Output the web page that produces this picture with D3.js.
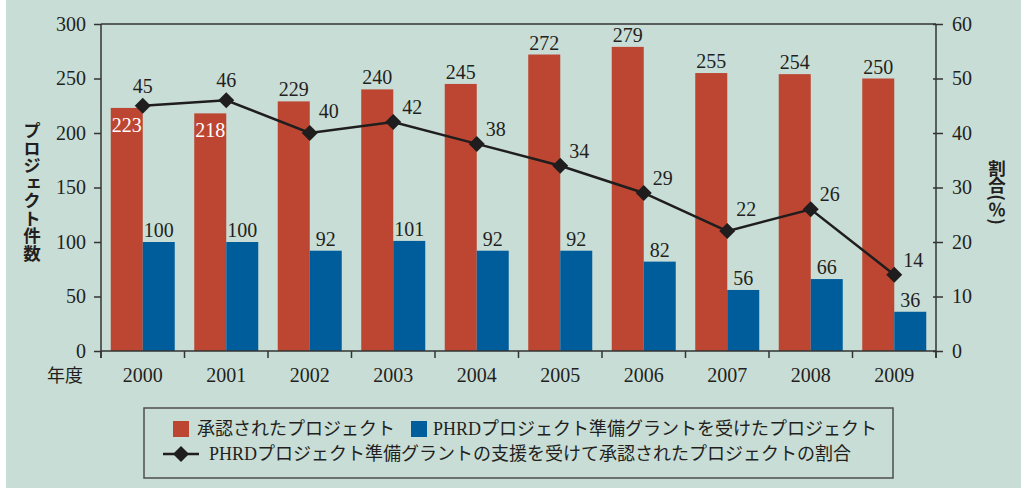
<!DOCTYPE html>
<html>
<head>
<meta charset="utf-8">
<script src="https://cdn.jsdelivr.net/npm/d3@7"></script>
<style>
  body { margin: 0; background: #fff; }
  text { fill: #231f20; }
</style>
</head>
<body>
<div id="container"></div>
<script>
const years = ["2000","2001","2002","2003","2004","2005","2006","2007","2008","2009"];
const approved = [223,218,229,240,245,272,279,255,254,250];
const grantProjects = [100,100,92,101,92,92,82,56,66,36];
const sharePct = [45,46,40,42,38,34,29,22,26,14];
const leftTicks = [0,50,100,150,200,250,300];
const rightTicks = [0,10,20,30,40,50,60];
const legendNames = ["承認されたプロジェクト","PHRDプロジェクト準備グラントを受けたプロジェクト","PHRDプロジェクト準備グラントの支援を受けて承認されたプロジェクトの割合"];

function create(){
  const width = 1021;
  const height = 488;
  const left = 101, right = 936, top = 24, bottom = 351;
  const red = "#bc4631";
  const blue = "#005d9c";
  const ink = "#231f20";
  const num = "'Liberation Serif', 'Noto Sans CJK JP', serif";
  const jp = "'Liberation Serif', 'Noto Sans CJK JP', sans-serif";
  const numSize = "20px";

  const svg = d3.select("#container")
    .append("svg")
    .attr("width", width)
    .attr("height", height)

  svg.append("rect").attr("x", 6).attr("y", 0)
    .attr("width", width - 6).attr("height", height)
    .attr("fill", "#c8ddd6")

  const x = d3.scaleBand().domain(years).range([left, right])
  const yL = d3.scaleLinear().domain([0, 300]).range([bottom, top])
  const yR = d3.scaleLinear().domain([0, 60]).range([bottom, top])
  const barW = 32
  const cx = d => x(d) + x.bandwidth() / 2

  // bars
  svg.selectAll(".red").data(years).enter().append("rect")
    .attr("x", d => cx(d) - barW)
    .attr("y", (d, i) => yL(approved[i]))
    .attr("width", barW)
    .attr("height", (d, i) => bottom - yL(approved[i]))
    .attr("fill", red)

  svg.selectAll(".blue").data(years).enter().append("rect")
    .attr("x", d => cx(d))
    .attr("y", (d, i) => yL(grantProjects[i]))
    .attr("width", barW)
    .attr("height", (d, i) => bottom - yL(grantProjects[i]))
    .attr("fill", blue)

  // bar labels
  svg.selectAll(".redlab").data(years).enter().append("text")
    .attr("x", d => cx(d) - barW / 2)
    .attr("y", (d, i) => i < 2 ? yL(approved[i]) + 24 : yL(approved[i]) - 5)
    .attr("text-anchor", "middle")
    .style("fill", (d, i) => i < 2 ? "#fff" : ink)
    .style("font-family", num).style("font-size", numSize)
    .text((d, i) => approved[i])

  svg.selectAll(".bluelab").data(years).enter().append("text")
    .attr("x", d => cx(d) + barW / 2)
    .attr("y", (d, i) => yL(grantProjects[i]) - 5)
    .attr("text-anchor", "middle")
    .style("font-family", num).style("font-size", numSize)
    .text((d, i) => grantProjects[i])

  // axes
  const axes = svg.append("g").attr("stroke", "#333").attr("stroke-width", 1.5)
  axes.append("line").attr("x1", left).attr("x2", right).attr("y1", top).attr("y2", top)
  axes.append("line").attr("x1", left).attr("x2", right).attr("y1", bottom).attr("y2", bottom)
  axes.append("line").attr("x1", left).attr("x2", left).attr("y1", top).attr("y2", bottom + 7)
  axes.append("line").attr("x1", right).attr("x2", right).attr("y1", top).attr("y2", bottom + 7)

  const yAxisL = d3.axisLeft(yL).tickValues(leftTicks).tickSize(7).tickPadding(8)
  const gL = svg.append("g").attr("transform", `translate(${left},0)`).call(yAxisL)
  const yAxisR = d3.axisRight(yR).tickValues(rightTicks).tickSize(7).tickPadding(9)
  const gR = svg.append("g").attr("transform", `translate(${right},0)`).call(yAxisR)
  gR.selectAll(".tick line").attr("x1", -3)
  const xAxis = d3.axisBottom(x).tickSize(0).tickPadding(20)
  const gX = svg.append("g").attr("transform", `translate(0,${bottom})`).call(xAxis)

  for (const g of [gL, gR, gX]) {
    g.select(".domain").remove()
    g.selectAll(".tick line").attr("stroke", "#333").attr("stroke-width", 1.5)
    g.selectAll("text").style("font-family", num).style("font-size", numSize).attr("fill", ink)
  }
  gX.selectAll("text").attr("dy", "0.55em")

  svg.append("g").selectAll("line").data(years.concat(["end"])).enter().append("line")
    .attr("x1", d => d == "end" ? right : x(d))
    .attr("x2", d => d == "end" ? right : x(d))
    .attr("y1", bottom).attr("y2", bottom + 7)
    .attr("stroke", "#333").attr("stroke-width", 1.5)

  svg.append("text").attr("x", 65).attr("y", 382)
    .attr("text-anchor", "middle")
    .style("font-family", jp).style("font-size", "18px")
    .text("年度")

  // axis titles
  svg.append("text").attr("x", 32).attr("y", 192)
    .attr("text-anchor", "middle")
    .style("writing-mode", "vertical-rl")
    .style("font-family", "'Noto Sans CJK JP'").style("font-size", "17.5px").style("font-weight", "bold")
    .text("プロジェクト件数")

  svg.append("text").attr("x", 997).attr("y", 192)
    .attr("text-anchor", "middle")
    .style("writing-mode", "vertical-rl")
    .style("font-family", "'Noto Sans CJK JP'").style("font-size", "17.5px").style("font-weight", "bold")
    .text("割合(％)")

  // share line
  const line = d3.line().x((d, i) => cx(years[i])).y(d => yR(d))
  svg.append("path").datum(sharePct)
    .attr("d", line).attr("fill", "none")
    .attr("stroke", "#1f1d1e").attr("stroke-width", 2.5)

  const diamond = d3.symbol(d3.symbolSquare, 128)
  svg.selectAll(".pt").data(sharePct).enter().append("path")
    .attr("d", diamond)
    .attr("transform", (d, i) => `translate(${cx(years[i])},${yR(d)}) rotate(45)`)
    .attr("fill", "#1f1d1e")

  svg.selectAll(".ptlab").data(sharePct).enter().append("text")
    .attr("x", (d, i) => i < 2 ? cx(years[i]) : cx(years[i]) + 9)
    .attr("y", (d, i) => {
      if (i < 2) return yR(d) - 13
      const dip = sharePct[i - 1] > d && i < sharePct.length - 1 && sharePct[i + 1] > d
      return yR(d) - (dip ? 15 : 8)
    })
    .attr("text-anchor", (d, i) => i < 2 ? "middle" : "start")
    .style("font-family", num).style("font-size", numSize)
    .text(d => d)

  // legend
  const lg = svg.append("g")
  lg.append("rect").attr("x", 144).attr("y", 408).attr("width", 749).attr("height", 70)
    .attr("fill", "none").attr("stroke", "#4d4d4d").attr("stroke-width", 1.5)

  lg.append("rect").attr("x", 173).attr("y", 421).attr("width", 16).attr("height", 16).attr("fill", red)
  lg.append("text").attr("x", 197).attr("y", 435)
    .style("font-family", jp).style("font-size", "18px").text(legendNames[0])
  lg.append("rect").attr("x", 411).attr("y", 421).attr("width", 16).attr("height", 16).attr("fill", blue)
  lg.append("text").attr("x", 433).attr("y", 435)
    .style("font-family", jp).style("font-size", "18px").text(legendNames[1])

  lg.append("line").attr("x1", 163).attr("x2", 199).attr("y1", 454).attr("y2", 454)
    .attr("stroke", "#1f1d1e").attr("stroke-width", 2.5)
  lg.append("path").attr("d", diamond)
    .attr("transform", "translate(181,454) rotate(45)").attr("fill", "#1f1d1e")
  lg.append("text").attr("x", 209).attr("y", 460)
    .style("font-family", jp).style("font-size", "18px").text(legendNames[2])
}

create()
</script>
</body>
</html>
